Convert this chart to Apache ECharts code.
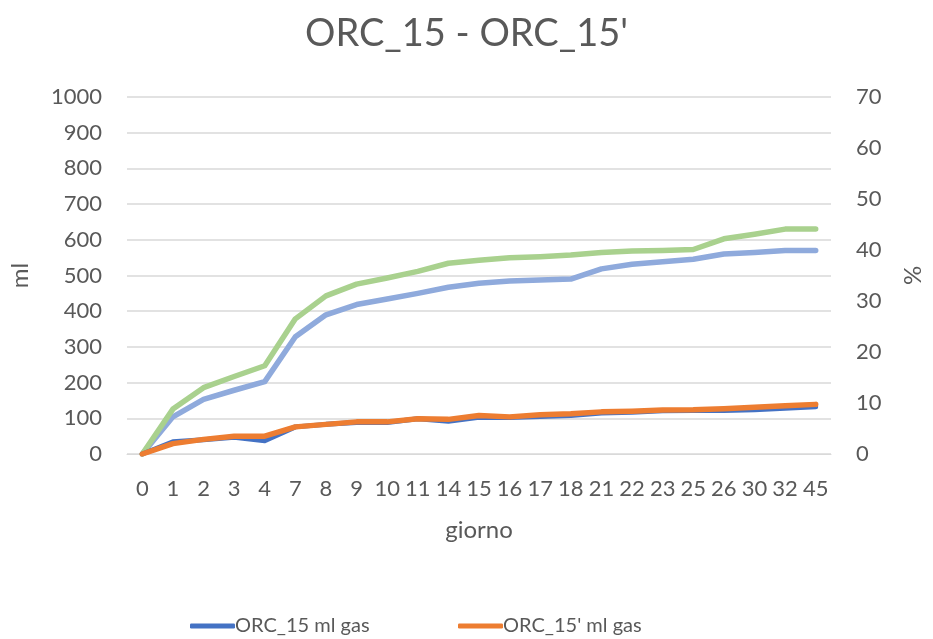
<!DOCTYPE html>
<html>
<head>
<meta charset="utf-8">
<script src="https://cdn.jsdelivr.net/npm/echarts@6/dist/echarts.min.js"></script>
<style>
html,body{margin:0;padding:0;background:#fff;}
#chart{width:933px;height:639px;}
</style>
</head>
<body>
<div id="chart"></div>
<script>
// Days of measurement
const days = ['0','1','2','3','4','7','8','9','10','11','14','15','16','17','18','21','22','23','25','26','30','32','45'];
// Cumulative gas volume (ml), left axis
const orc15Ml = [0,34,40,47,37,76,83,88,88,99,92,103,102,105,108,115,117,121,122,122,124,128,132];
const orc15pMl = [0,29,41,50,50,76,83,90,90,99,97,108,104,110,113,118,120,123,124,127,131,135,139];
// Percentages, right axis
const orc15Pct = [0,7.3,10.7,12.5,14.2,23.0,27.3,29.3,30.4,31.5,32.7,33.5,33.9,34.1,34.3,36.3,37.2,37.7,38.2,39.2,39.5,39.9,39.9];
const orc15pPct = [0,8.8,13.0,15.2,17.3,26.5,31.0,33.3,34.5,35.8,37.4,38.0,38.5,38.7,39.0,39.5,39.8,39.9,40.1,42.2,43.1,44.1,44.1];
// Axis ticks
const mlTicks = {min:0,max:1000,interval:100};
const pctTicks = {min:0,max:70,interval:10};

const txt = '#595959';
const font = 'Lato, "Noto Sans", sans-serif';
const legendText = {fontSize:20,color:txt,fontFamily:font,padding:[0,0,0,-5]};
const chart = echarts.init(document.getElementById('chart'), null, {renderer:'canvas'});
chart.setOption({
  animation:false,
  textStyle:{fontFamily:font},
  title:{text:"ORC_15 - ORC_15'",left:'center',top:10,
    textStyle:{fontSize:38,fontWeight:'normal',color:txt,fontFamily:font}},
  grid:{left:126,right:91,top:97,bottom:185},
  legend:[
    {data:['ORC_15 ml gas'],top:611,left:185,itemWidth:45,itemHeight:5,icon:'roundRect',textStyle:legendText},
    {data:["ORC_15' ml gas"],top:611,left:453,itemWidth:45,itemHeight:5,icon:'roundRect',textStyle:legendText}
  ],
  xAxis:{
    type:'category',data:days,boundaryGap:true,
    name:'giorno',nameLocation:'middle',nameGap:64,
    nameTextStyle:{fontSize:24,color:txt},
    axisLine:{show:true,lineStyle:{color:'#d9d9d9'}},
    axisTick:{show:false},
    axisLabel:{interval:0,fontSize:22,color:txt,margin:24}
  },
  yAxis:[
    {type:'value',min:mlTicks.min,max:mlTicks.max,interval:mlTicks.interval,
     name:'ml',nameLocation:'middle',nameGap:95,nameRotate:90,
     nameTextStyle:{fontSize:24,color:txt},
     axisLabel:{fontSize:22,color:txt,margin:25,formatter:v=>String(v)},
     axisLine:{show:false},axisTick:{show:false},
     splitLine:{lineStyle:{color:'#d9d9d9',width:1.5}}},
    {type:'value',min:pctTicks.min,max:pctTicks.max,interval:pctTicks.interval,
     name:'%',nameLocation:'middle',nameGap:70,nameRotate:90,
     nameTextStyle:{fontSize:24,color:txt},
     axisLabel:{fontSize:22,color:txt,margin:25},
     axisLine:{show:false},axisTick:{show:false},splitLine:{show:false}}
  ],
  series:[
    {name:'ORC_15 %',type:'line',yAxisIndex:1,data:orc15Pct,symbol:'none',
     lineStyle:{color:'#8FAADC',width:5.5,cap:'round',join:'round'},itemStyle:{color:'#8FAADC'}},
    {name:"ORC_15' %",type:'line',yAxisIndex:1,data:orc15pPct,symbol:'none',
     lineStyle:{color:'#A9D18E',width:5.5,cap:'round',join:'round'},itemStyle:{color:'#A9D18E'}},
    {name:'ORC_15 ml gas',type:'line',yAxisIndex:0,data:orc15Ml,symbol:'none',
     lineStyle:{color:'#4472C4',width:5,cap:'round',join:'round'},itemStyle:{color:'#4472C4'}},
    {name:"ORC_15' ml gas",type:'line',yAxisIndex:0,data:orc15pMl,symbol:'none',
     lineStyle:{color:'#ED7D31',width:5.5,cap:'round',join:'round'},itemStyle:{color:'#ED7D31'}}
  ]
});
</script>
</body>
</html>
